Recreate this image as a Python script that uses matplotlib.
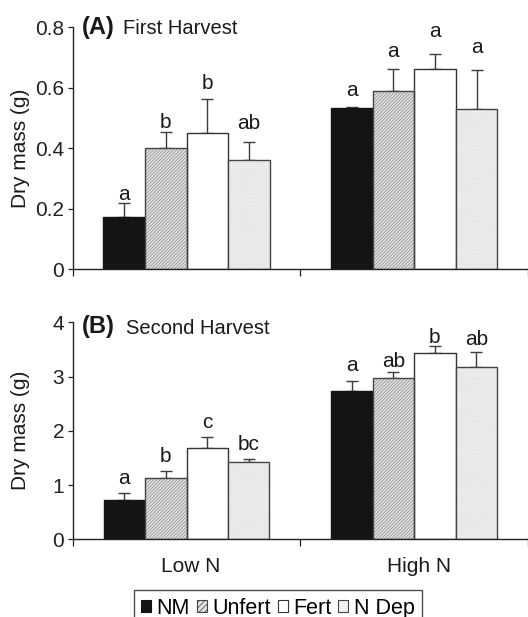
import matplotlib
matplotlib.use("Agg")
import matplotlib.pyplot as plt
from matplotlib.patches import Patch
import numpy as np

plt.rcParams['font.family'] = ['Liberation Sans', 'DejaVu Sans']
plt.rcParams['hatch.linewidth'] = 0.55

# ---------------- data ----------------
groups = ["Low N", "High N"]
treatments = ["NM", "Unfert", "Fert", "N Dep"]

# First harvest (g)
h1_low = [0.171, 0.399, 0.449, 0.362]
h1_low_err = [0.047, 0.053, 0.114, 0.057]
h1_high = [0.532, 0.590, 0.662, 0.530]
h1_high_err = [0.003, 0.073, 0.050, 0.129]
h1_low_letters = ["a", "b", "b", "ab"]
h1_high_letters = ["a", "a", "a", "a"]

# Second harvest (g)
h2_low = [0.72, 1.13, 1.69, 1.43]
h2_low_err = [0.13, 0.13, 0.19, 0.05]
h2_high = [2.74, 2.97, 3.43, 3.18]
h2_high_err = [0.18, 0.12, 0.13, 0.27]
h2_low_letters = ["a", "b", "c", "bc"]
h2_high_letters = ["a", "ab", "b", "ab"]

# letter label gap above error bar (points) -- style
h1_gap = [[2, 3, 7, 10], [8, 8.5, 12, 12]]
h2_gap = [[6.5, 6.5, 6.5, 6.5], [7, 3.6, 2.2, 5]]

# ---------------- styles ----------------
styles = [
    dict(face="#141414", hatch=None, hcol=None, edge="#141414"),
    dict(face="#e4e4e4", hatch="//////////", hcol="#8c8c8c", edge="#444444"),
    dict(face="#ffffff", hatch=None, hcol=None, edge="#333333"),
    dict(face="#efefef", hatch="........", hcol="#dadada", edge="#444444"),
]
FS = 15
W_PX, H_PX = 528, 617
fig = plt.figure(figsize=(W_PX / 100, H_PX / 100), dpi=100)


def px_axes(x0, x1, ytop, ybot):
    return fig.add_axes([x0 / W_PX, 1 - ybot / H_PX, (x1 - x0) / W_PX, (ybot - ytop) / H_PX])


def draw_panel(ax, low, low_err, high, high_err, low_let, high_let, gaps, width):
    vals = [low, high]
    errs = [low_err, high_err]
    lets = [low_let, high_let]
    offsets = (np.arange(4) - 1.5) * width
    for g in range(2):
        for t in range(4):
            st = styles[t]
            x = g + offsets[t]
            v = vals[g][t]
            e = errs[g][t]
            ax.errorbar(x, v, yerr=[[0], [e]], fmt="none", ecolor="#3c3c3c",
                        elinewidth=1.0, capsize=4.2, capthick=1.0, zorder=1)
            if st["hatch"]:
                ax.bar(x, v, width, color=st["face"], edgecolor=st["hcol"],
                       hatch=st["hatch"], linewidth=0, zorder=2)
                ax.bar(x, v, width, fill=False, edgecolor=st["edge"],
                       linewidth=1.0, zorder=3)
            else:
                ax.bar(x, v, width, color=st["face"], edgecolor=st["edge"],
                       linewidth=1.0, zorder=2)
            ax.annotate(lets[g][t], (x, v + e), xytext=(0, gaps[g][t]),
                        textcoords="offset points", ha="center", va="baseline",
                        fontsize=FS, color="#1a1a1a")
    for side in ("top", "right"):
        ax.spines[side].set_visible(False)
    for side in ("left", "bottom"):
        ax.spines[side].set_color("#222222")
        ax.spines[side].set_linewidth(1.0)
    ax.tick_params(axis="y", direction="out", length=3.6, width=0.9,
                   labelsize=FS, pad=2.5, colors="#222222")
    ax.set_ylabel("Dry mass (g)", fontsize=FS, color="#1a1a1a")


# top panel
ax1 = px_axes(72.7, 528, 27.3, 269)
draw_panel(ax1, h1_low, h1_low_err, h1_high, h1_high_err,
           h1_low_letters, h1_high_letters, h1_gap, 0.183)
ax1.set_ylim(0, 0.8)
ax1.set_yticks([0, 0.2, 0.4, 0.6, 0.8])
ax1.set_yticklabels(["0", "0.2", "0.4", "0.6", "0.8"])
ax1.set_xlim(-0.5, 1.481)
ax1.set_xticks([])
ax1.set_xticks([-0.5, 0.5, 1.5], minor=True)
ax1.tick_params(axis="x", which="minor", direction="out", length=5, width=0.9,
                colors="#222222")
ax1.yaxis.set_label_coords(-0.094, 0.5)

# bottom panel
ax2 = px_axes(72.7, 528, 322.3, 539.3)
draw_panel(ax2, h2_low, h2_low_err, h2_high, h2_high_err,
           h2_low_letters, h2_high_letters, h2_gap, 0.182)
ax2.set_ylim(0, 4)
ax2.set_yticks([0, 1, 2, 3, 4])
ax2.set_yticklabels(["0", "1", "2", "3", "4"])
ax2.set_xlim(-0.5, 1.455)
ax2.set_xticks([0.02, 1.02])
ax2.set_xticklabels(groups, fontsize=FS, color="#1a1a1a")
ax2.tick_params(axis="x", which="major", length=0, pad=13)
ax2.set_xticks([-0.5, 0.5, 1.5], minor=True)
ax2.tick_params(axis="x", which="minor", direction="out", length=5, width=0.9,
                colors="#222222")
ax2.yaxis.set_label_coords(-0.094, 0.5)

# panel titles
fig.text(82 / W_PX, 1 - 27.5 / H_PX, "(A)", fontsize=17, fontweight="bold",
         va="center", ha="left", color="#1a1a1a")
fig.text(123 / W_PX, 1 - 28 / H_PX, "First Harvest", fontsize=14.5,
         va="center", ha="left", color="#1a1a1a")
fig.text(82 / W_PX, 1 - 327 / H_PX, "(B)", fontsize=17, fontweight="bold",
         va="center", ha="left", color="#1a1a1a")
fig.text(126 / W_PX, 1 - 328 / H_PX, "Second Harvest", fontsize=14.5,
         va="center", ha="left", color="#1a1a1a")

# legend
leg_hatch = [None, "//////", None, None]
leg_face = ["#141414", "#e4e4e4", "#ffffff", "#f4f4f4"]
handles = []
for t, st in enumerate(styles):
    handles.append(Patch(facecolor=leg_face[t], edgecolor=st["edge"],
                         hatch=leg_hatch[t], linewidth=0.8, label=treatments[t]))
leg = fig.legend(handles=handles, loc="upper center",
                 bbox_to_anchor=(277.8 / W_PX, 1 - 590 / H_PX), ncol=4,
                 fontsize=15.5, frameon=True, fancybox=False, shadow=False,
                 handlelength=0.45, handleheight=0.45, handletextpad=0.25,
                 columnspacing=0.34, borderpad=0.35, borderaxespad=0)
leg.get_frame().set_edgecolor("#222222")
leg.get_frame().set_linewidth(1.0)

fig.savefig("out.png", dpi=100)
